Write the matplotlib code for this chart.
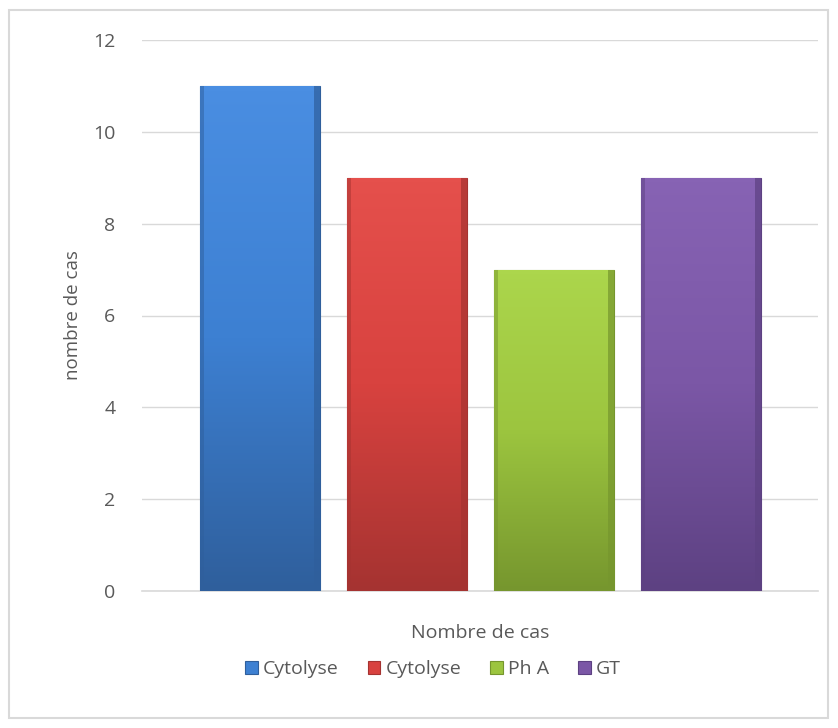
import matplotlib
matplotlib.use("Agg")
import matplotlib.pyplot as plt
import numpy as np
from matplotlib.colors import LinearSegmentedColormap
from matplotlib.patches import Rectangle

# data
labels = ["Cytolyse", "Cytolyse", "Ph A", "GT"]
values = [11, 9, 7, 9]
colors = ["#3d80d2", "#d8423f", "#9cc53f", "#7b57a6"]
tops = ["#4a8ee2", "#e5504c", "#acd64c", "#8763b4"]
bottoms = ["#2f5f9c", "#a53331", "#76962e", "#5d4182"]

plt.rcParams["font.family"] = ["Open Sans", "DejaVu Sans"]
txt = "#595959"

fig = plt.figure(figsize=(8.38, 7.28), dpi=100)
fig.patches.append(Rectangle((9 / 838, 10 / 728), 819 / 838, 708 / 728,
                             transform=fig.transFigure, fill=False,
                             edgecolor="#d9d9d9", linewidth=1.5))
ax = fig.add_axes([142 / 838, 137 / 728, 676 / 838, 551 / 728])

width = 120 / 676
step = 147 / 676
offsets = (np.arange(len(values)) - 1.5) * step
for i, (lab, v) in enumerate(zip(labels, values)):
    bars = ax.bar(offsets[i], v, width=width, color=colors[i], label=lab,
                  edgecolor=bottoms[i], linewidth=0.8, zorder=3)
    b = bars[0]
    x0 = b.get_x()
    cmap = LinearSegmentedColormap.from_list("g", [bottoms[i], colors[i], tops[i]])
    grad = np.linspace(0, 1, 256).reshape(-1, 1)
    im = ax.imshow(grad, cmap=cmap, aspect="auto", origin="lower",
                   extent=(x0, x0 + width, 0, v), zorder=3.5)
    im.set_clip_path(b)
    # bevel edges
    ax.fill_between([x0, x0 + width], v - 0.1, v, color=tops[i], zorder=4, lw=0)
    ax.fill_between([x0, x0 + width], 0, 0.1, color=bottoms[i], zorder=4, lw=0)
    ax.fill_betweenx([0, v], x0, x0 + 0.006, color=bottoms[i], alpha=0.5, zorder=4, lw=0)
    ax.fill_betweenx([0, v], x0 + width - 0.008, x0 + width, color=bottoms[i], alpha=0.7, zorder=4, lw=0)

ax.set_xlim(-0.5, 0.5)
ax.set_ylim(0, 12)
ax.set_yticks(range(0, 13, 2))
ax.set_xticks([])
ax.grid(axis="y", color="#d9d9d9", linewidth=1, zorder=0)
for s in ["top", "right", "left"]:
    ax.spines[s].set_visible(False)
ax.spines["bottom"].set_color("#d9d9d9")
ax.spines["bottom"].set_linewidth(1.2)
ax.tick_params(axis="y", length=0, labelsize=14, labelcolor=txt, pad=19)
ax.set_ylabel("nombre de cas", fontsize=13.5, color=txt, labelpad=8)
ax.set_xlabel("Nombre de cas", fontsize=14, color=txt, labelpad=24)

fig.legend(loc="center", bbox_to_anchor=(433 / 838, 1 - 669 / 728), ncol=4,
           frameon=False, fontsize=14, labelcolor=txt, handlelength=0.65,
           handleheight=0.65, handletextpad=0.25, columnspacing=1.5)

fig.savefig("out.png", dpi=100)
